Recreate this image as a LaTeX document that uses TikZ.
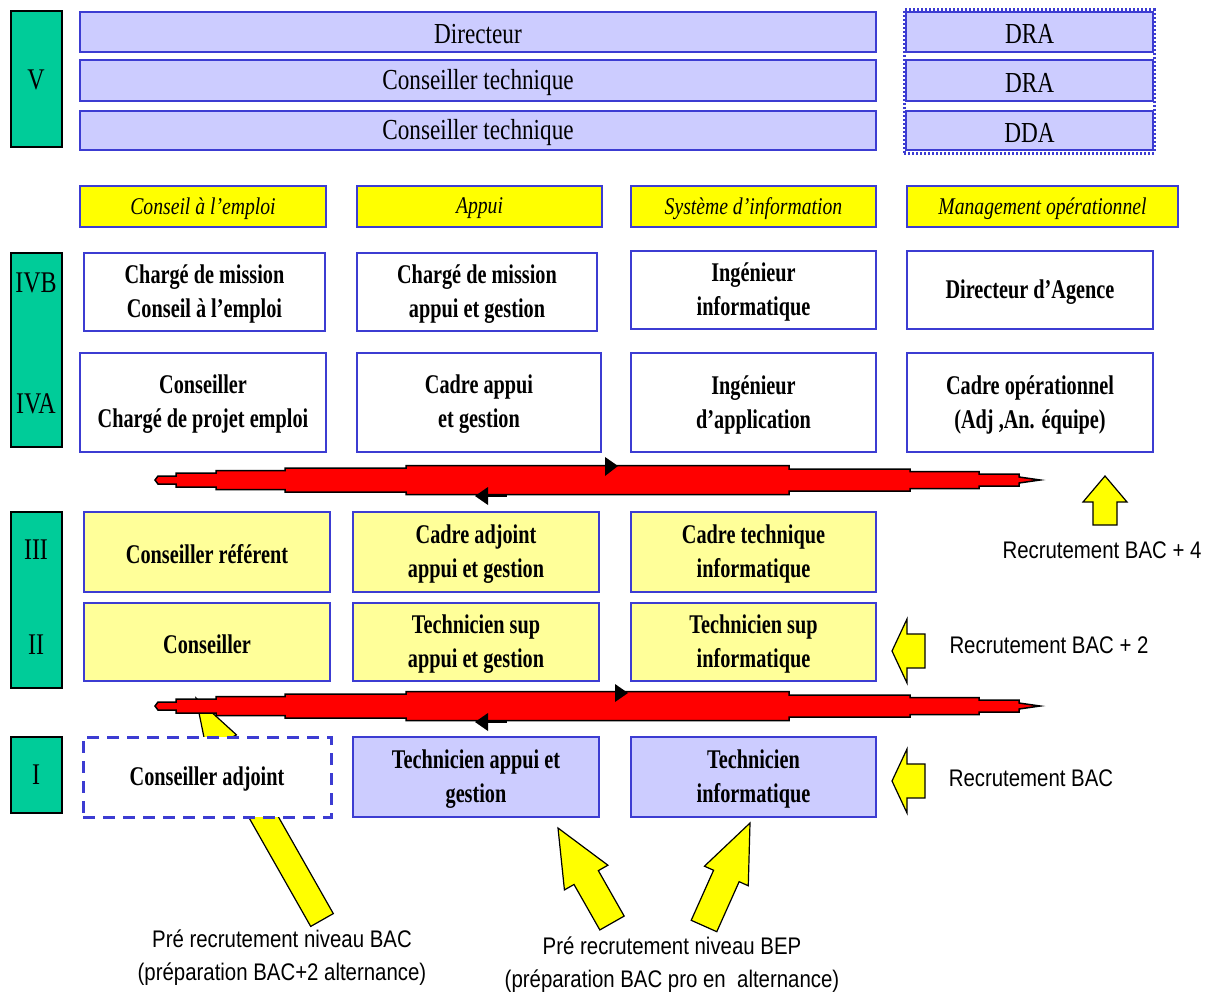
\documentclass[tikz,border=0pt]{standalone}
\usepackage{fontspec}
\setmainfont{Liberation Serif}
\newfontfamily\regfont{Liberation Serif}[FakeStretch=0.8]
\newfontfamily\jobfont{Liberation Serif}[FakeStretch=0.75]
\newfontfamily\catfont{Liberation Serif}[FakeStretch=0.82]
\newfontfamily\recfont{Liberation Sans}[FakeStretch=0.85]
\usetikzlibrary{calc}
\definecolor{lvlgreen}{HTML}{00CC99}
\definecolor{bordblue}{HTML}{3C3CD2}
\definecolor{lilac}{HTML}{CCCCFF}
\definecolor{paleyel}{HTML}{FFFF99}
\definecolor{hdryel}{HTML}{FFFF00}
\definecolor{arrred}{HTML}{FF0000}
\newcommand{\blockarrow}[5]{%
  \coordinate (ba-H) at ($(#2)!#5!(#1)$);
  \filldraw[fill=hdryel, draw=black, line width=1.2pt, line join=miter]
    ($(#1)!#3!90:(#2)$) -- ($(ba-H)!#3!90:(#2)$) -- ($(ba-H)!#4!90:(#2)$) -- (#2)
    -- ($(ba-H)!#4!-90:(#2)$) -- ($(ba-H)!#3!-90:(#2)$) -- ($(#1)!#3!-90:(#2)$) -- cycle;}
\newcommand{\redarrow}[1]{%
  \begin{scope}[shift={(0,#1)}]
  \filldraw[fill=arrred, draw=black, line width=1.5pt, line join=miter]
   (155,0) -- (158,-4) -- (176,-4) -- (176,-7) -- (216,-7) -- (216,-9.5) -- (285,-9.5) -- (285,-12)
   -- (406,-12) -- (406,-14.5) -- (789,-14.5) -- (789,-11) -- (910,-11) -- (910,-8.5) -- (979,-8.5)
   -- (979,-6) -- (1019,-6) -- (1019,-3) -- (1040,0) -- (1019,3) -- (1019,6) -- (979,6) -- (979,8.5)
   -- (910,8.5) -- (910,11) -- (789,11) -- (789,14.5) -- (406,14.5) -- (406,12) -- (285,12) -- (285,9.5)
   -- (216,9.5) -- (216,7) -- (176,7) -- (176,4) -- (158,4) -- cycle;
  \end{scope}}
% box from corners: style, name, x1, y1, x2, y2, text
\newcommand{\bx}[7]{%
  \pgfmathsetmacro{\bxw}{#5-#3}\pgfmathsetmacro{\bxh}{#6-#4}%
  \pgfmathsetmacro{\bxcx}{(#3+#5)/2}\pgfmathsetmacro{\bxcy}{(#4+#6)/2}%
  \node[#1, minimum width=\bxw pt, minimum height=\bxh pt] (#2) at (\bxcx,\bxcy) {};
  \node[#1, draw=none, fill=none, minimum width=0pt, minimum height=0pt, yshift=-2pt] (#2-t) at (#2.center) {#7};}
\begin{document}
\begin{tikzpicture}[x=1pt,y=-1pt,
  lvl/.style={draw=black, line width=1.5pt, fill=lvlgreen, inner sep=0pt},
  lvltxt/.style={font=\regfont\fontsize{30}{32}\selectfont, inner sep=0pt},
  topbar/.style={draw=bordblue, line width=1.5pt, fill=lilac, inner sep=0pt, font=\regfont\fontsize{29}{32}\selectfont},
  cat/.style={draw=bordblue, line width=1.5pt, fill=hdryel, inner sep=0pt, font=\catfont\itshape\fontsize{24}{28}\selectfont},
  job/.style={draw=bordblue, line width=1.5pt, fill=white, inner sep=0pt, align=center, font=\jobfont\bfseries\fontsize{27}{34}\selectfont},
  jobyel/.style={job, fill=paleyel},
  joblil/.style={job, fill=lilac},
  jobdash/.style={job, line width=3pt, dash pattern=on 12pt off 8pt},
  frame/.style={draw=bordblue, line width=3pt, dash pattern=on 2pt off 2pt, inner sep=0pt},
  rec/.style={inner sep=0pt, align=center, font=\recfont\fontsize{24}{33}\selectfont}]
\useasboundingbox[fill=white] (0,0) rectangle (1206,998);

% diagonal yellow arrow (behind the dashed box and red arrow)
\coordinate (dgb) at (322,920);
\coordinate (dgt) at (196,698);
\blockarrow{dgb}{dgt}{13pt}{17pt}{52pt}

% level column
\bx{lvl}{lV}{11}{11}{62}{147}{}
\node[lvltxt] (lVt) at (36,80) {V};
\bx{lvl}{lIV}{11}{253}{62}{447}{}
\node[lvltxt] (lIVBt) at (36,283) {IVB};
\node[lvltxt] (lIVAt) at (36,404) {IVA};
\bx{lvl}{lIII}{11}{512}{62}{688}{}
\node[lvltxt] (lIIIt) at (36,550) {III};
\node[lvltxt] (lIIt) at (36,645) {II};
\bx{lvl}{lI}{11}{737}{62}{813}{}
\node[lvltxt] (lIt) at (36,775) {I};

% top bars
\bx{topbar}{b1}{80}{12}{876}{52}{Directeur}
\bx{topbar}{b2}{80}{60}{876}{101}{Conseiller technique}
\bx{topbar}{b3}{80}{111}{876}{150}{Conseiller technique}
\bx{frame}{draframe}{904}{10}{1154}{153}{}
\bx{topbar}{d1}{906}{12}{1153}{52}{DRA}
\bx{topbar}{d2}{906}{60}{1153}{101}{DRA}
\bx{topbar}{d3}{906}{111}{1153}{150}{DDA}

% category headers
\bx{cat}{c1}{80}{186}{326}{227}{Conseil à l’emploi}
\bx{cat}{c2}{357}{186}{602}{227}{Appui}
\bx{cat}{c3}{631}{186}{876}{227}{Système d’information}
\bx{cat}{c4}{907}{186}{1178}{227}{Management opérationnel}

% IVB
\bx{job}{ivb1}{84}{253}{325}{331}{Chargé de mission\\Conseil à l’emploi}
\bx{job}{ivb2}{357}{253}{597}{331}{Chargé de mission\\appui et gestion}
\bx{job}{ivb3}{631}{251}{876}{329}{Ingénieur\\informatique}
\bx{job}{ivb4}{907}{251}{1153}{329}{Directeur d’Agence}
% IVA
\bx{job}{iva1}{80}{353}{326}{452}{Conseiller\\Chargé de projet emploi}
\bx{job}{iva2}{357}{353}{601}{452}{Cadre appui\\et gestion}
\bx{job}{iva3}{631}{353}{876}{452}{Ingénieur\\d’application}
\bx{job}{iva4}{907}{353}{1153}{452}{Cadre opérationnel\\(Adj ,An. équipe)}
% III
\bx{jobyel}{iii1}{84}{512}{330}{592}{Conseiller référent}
\bx{jobyel}{iii2}{353}{512}{599}{592}{Cadre adjoint\\appui et gestion}
\bx{jobyel}{iii3}{631}{512}{876}{592}{Cadre technique\\informatique}
% II
\bx{jobyel}{ii1}{84}{603}{330}{681}{Conseiller}
\bx{jobyel}{ii2}{353}{603}{599}{681}{Technicien sup\\appui et gestion}
\bx{jobyel}{ii3}{631}{603}{876}{681}{Technicien sup\\informatique}
% I
\bx{jobdash}{i1}{83}{737}{331}{817}{Conseiller adjoint}
\bx{joblil}{i2}{353}{737}{599}{817}{Technicien appui et\\gestion}
\bx{joblil}{i3}{631}{737}{876}{817}{Technicien\\informatique}

% red double arrows
\redarrow{480}
\fill[black] (605,457) -- (618,466) -- (605,476) -- cycle;
\fill[black] (488,487) -- (475,496) -- (488,505) -- cycle;
\draw[black, line width=3pt] (486,495) -- (507,495);
\redarrow{706}
\fill[black] (615,684) -- (628,693) -- (615,702) -- cycle;
\fill[black] (488,713) -- (475,722) -- (488,731) -- cycle;
\draw[black, line width=3pt] (486,721) -- (507,721);

% recruitment arrows
\coordinate (r4b) at (1105,525); \coordinate (r4t) at (1105,476);
\blockarrow{r4b}{r4t}{12pt}{22pt}{26pt}
\coordinate (r2b) at (925,651); \coordinate (r2t) at (892,651);
\blockarrow{r2b}{r2t}{17pt}{32pt}{15pt}
\coordinate (r0b) at (925,781); \coordinate (r0t) at (892,781);
\blockarrow{r0b}{r0t}{17pt}{32pt}{15pt}
\coordinate (p1b) at (612,923); \coordinate (p1t) at (558,828);
\blockarrow{p1b}{p1t}{14pt}{25pt}{57pt}
\coordinate (p2b) at (704,926); \coordinate (p2t) at (750,823);
\blockarrow{p2b}{p2t}{14pt}{24pt}{58pt}

\node[rec] (t4) at (1102,550) {Recrutement BAC + 4};
\node[rec] (t2) at (1049,645) {Recrutement BAC + 2};
\node[rec] (t0) at (1031,778) {Recrutement BAC};
\node[rec] (tb1) at (282,958) {Pré recrutement niveau BAC\\(préparation BAC+2 alternance)};
\node[rec] (tb2) at (672,965) {Pré recrutement niveau BEP\\(préparation BAC pro en~ alternance)};
\end{tikzpicture}
\end{document}
